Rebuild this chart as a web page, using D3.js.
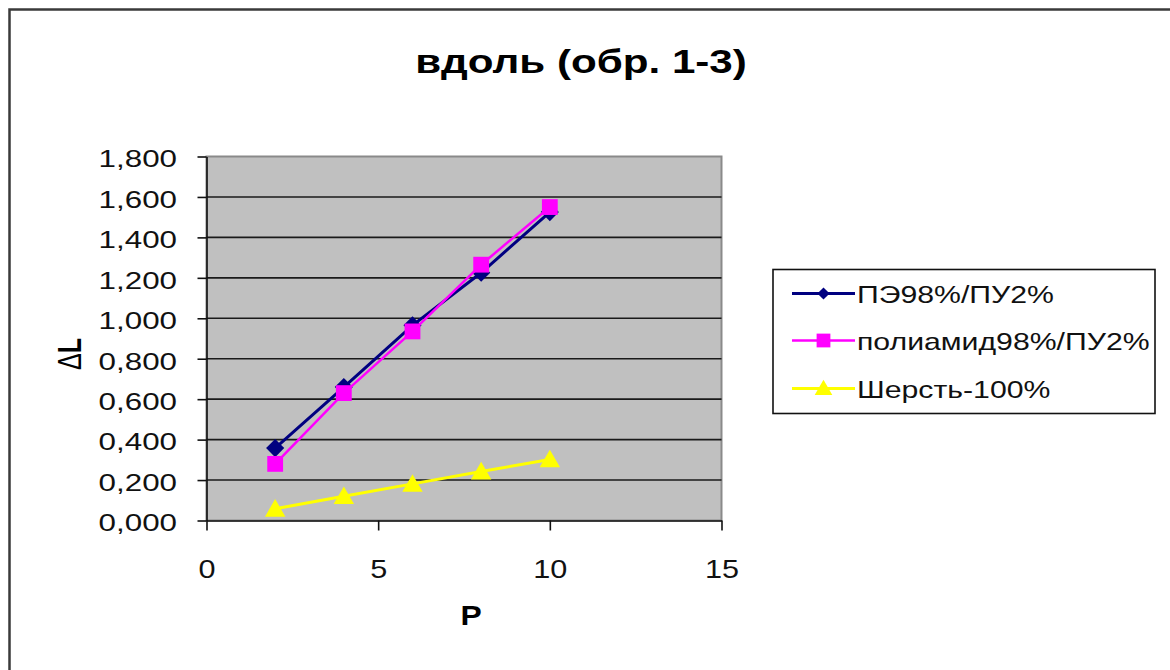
<!DOCTYPE html>
<html>
<head>
<meta charset="utf-8">
<script src="https://cdn.jsdelivr.net/npm/d3@7/dist/d3.min.js"></script>
<style>
  html, body { margin: 0; padding: 0; background: #fff; }
  svg { display: block; font-family: "Liberation Sans", Arial, sans-serif; }
</style>
</head>
<body>
<svg id="chart" width="1170" height="670"></svg>
<script>
// Load P and elongation ΔL for three fabric samples (along the warp)
const pValues = [2, 4, 6, 8, 10];
const seriesNames = ["ПЭ98%/ПУ2%", "полиамид98%/ПУ2%", "Шерсть-100%"];
const peValues = [0.358, 0.660, 0.965, 1.225, 1.525];
const polyamideValues = [0.280, 0.630, 0.935, 1.265, 1.550];
const woolValues = [0.058, 0.120, 0.181, 0.242, 0.302];
const yTicks = [0, 0.2, 0.4, 0.6, 0.8, 1.0, 1.2, 1.4, 1.6, 1.8];
const xTicks = [0, 5, 10, 15];

const titleText = "вдоль (обр. 1-3)";
const xTitle = "P";

// horizontal stretch applied to text
const SX = 1.28;

const svg = d3.select("#chart");

// outer chart frame
svg.append("rect")
  .attr("x", 9.5).attr("y", 9.5)
  .attr("width", 1180).attr("height", 680)
  .attr("fill", "#fff")
  .attr("stroke", "#3a3a3a").attr("stroke-width", 2.5);

const plot = { left: 206.5, right: 721.5, top: 156.5, bottom: 520.5 };

const x = d3.scaleLinear().domain([0, 15]).range([plot.left, plot.right]);
const y = d3.scaleLinear().domain([0, 1.8]).range([plot.bottom, plot.top]);

// plot background
svg.append("rect")
  .attr("x", plot.left).attr("y", plot.top)
  .attr("width", plot.right - plot.left).attr("height", plot.bottom - plot.top)
  .attr("fill", "#c0c0c0")
  .attr("stroke", "#8a8a8a").attr("stroke-width", 2);

// horizontal gridlines
svg.append("g")
  .selectAll("line")
  .data(yTicks.filter(d => d > 0 && d < 1.8))
  .join("line")
  .attr("x1", plot.left).attr("x2", plot.right)
  .attr("y1", d => y(d)).attr("y2", d => y(d))
  .attr("stroke", "#1a1a1a").attr("stroke-width", 1.6);

// y axis
const fmtY = d => d3.format(".3f")(d).replace(".", ",");
const yAxis = svg.append("g")
  .attr("transform", `translate(${plot.left},0)`)
  .call(d3.axisLeft(y).tickValues(yTicks).tickFormat(fmtY).tickSize(9).tickPadding(20).tickSizeOuter(0));
yAxis.select(".domain").attr("stroke", "#111").attr("stroke-width", 1.6);
yAxis.selectAll(".tick line").attr("stroke", "#111").attr("stroke-width", 1.6);
yAxis.selectAll(".tick text")
  .attr("font-size", 24.5)
  .attr("fill", "#111")
  .attr("x", -29.5 / SX)
  .attr("dy", "0.42em")
  .attr("transform", `scale(${SX},1)`);

// x axis
const xAxis = svg.append("g")
  .attr("transform", `translate(0,${plot.bottom})`)
  .call(d3.axisBottom(x).tickValues(xTicks).tickSize(10).tickPadding(29).tickSizeOuter(0));
xAxis.select(".domain").attr("stroke", "#111").attr("stroke-width", 1.6);
xAxis.selectAll(".tick line").attr("stroke", "#111").attr("stroke-width", 1.6);
xAxis.selectAll(".tick text")
  .attr("font-size", 26)
  .attr("fill", "#111")
  .attr("transform", `scale(${SX * 0.92},1)`);

// series definitions
const series = [
  { name: seriesNames[0], values: peValues, color: "#000080", width: 3, marker: "diamond", size: 210, legendSize: 95 },
  { name: seriesNames[1], values: polyamideValues, color: "#ff00ff", width: 2.5, marker: "square", size: 250, legendSize: 190 },
  { name: seriesNames[2], values: woolValues, color: "#ffff00", width: 3, marker: "triangle", size: 180, legendSize: 135 }
];
const symbolType = { diamond: d3.symbolDiamond2, square: d3.symbolSquare, triangle: d3.symbolTriangle };

const line = d3.line().x(d => x(d[0])).y(d => y(d[1]));

series.forEach(s => {
  const pts = pValues.map((p, i) => [p, s.values[i]]);
  svg.append("path")
    .datum(pts)
    .attr("d", line)
    .attr("fill", "none")
    .attr("stroke", s.color)
    .attr("stroke-width", s.width);
  svg.append("g")
    .selectAll("path")
    .data(pts)
    .join("path")
    .attr("transform", d => `translate(${x(d[0])},${y(d[1]) + (s.marker === "triangle" ? 2 : 0)})`)
    .attr("d", d3.symbol().type(symbolType[s.marker]).size(s.size))
    .attr("fill", s.color);
});

// title
svg.append("text")
  .attr("transform", `translate(581,73) scale(1.24,1)`)
  .attr("text-anchor", "middle")
  .attr("font-size", 34)
  .attr("font-weight", "bold")
  .attr("fill", "#000")
  .text(titleText);

// x axis title
svg.append("text")
  .attr("transform", `translate(471,625) scale(${SX * 0.92},1)`)
  .attr("text-anchor", "middle")
  .attr("font-size", 27)
  .attr("font-weight", "bold")
  .attr("fill", "#000")
  .text(xTitle);

// y axis title
const yt = svg.append("text")
  .attr("transform", `translate(81,354) scale(1.3,1) rotate(-90)`)
  .attr("text-anchor", "middle")
  .attr("font-size", 25)
  .attr("fill", "#000");
yt.append("tspan").attr("font-weight", "normal").text("Δ");
yt.append("tspan").attr("font-weight", "bold").text("L");

// legend
const legend = svg.append("g");
legend.append("rect")
  .attr("x", 773).attr("y", 269.5)
  .attr("width", 382).attr("height", 144)
  .attr("fill", "#fff")
  .attr("stroke", "#111").attr("stroke-width", 1.6);
const rowY = [293.5, 340.5, 388.5];
series.forEach((s, i) => {
  const g = legend.append("g").attr("transform", `translate(0,${rowY[i]})`);
  g.append("line")
    .attr("x1", 792).attr("x2", 855)
    .attr("stroke", s.color).attr("stroke-width", s.width);
  g.append("path")
    .attr("transform", `translate(823.5,${s.marker === "triangle" ? 1.5 : 0})`)
    .attr("d", d3.symbol().type(symbolType[s.marker]).size(s.legendSize))
    .attr("fill", s.color);
  g.append("text")
    .attr("transform", `translate(857,9) scale(1.26,1)`)
    .attr("font-size", 24)
    .attr("fill", "#111")
    .text(s.name);
});
</script>
</body>
</html>
